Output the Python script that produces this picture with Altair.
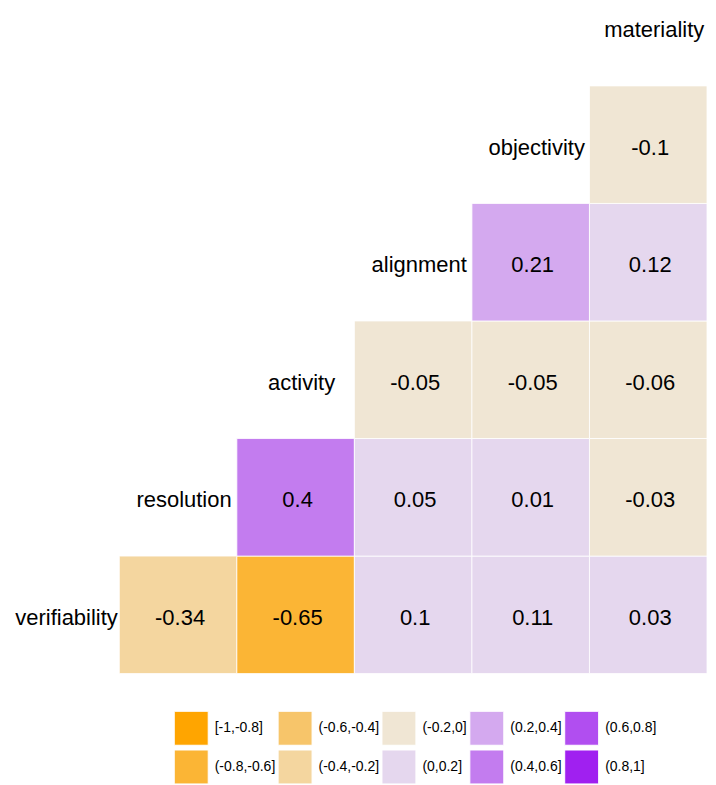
import altair as alt
import pandas as pd

# Variables, ordered from bottom-left (first) to top-right (last) on the diagonal
variables = ["verifiability", "resolution", "activity", "alignment", "objectivity", "materiality"]

# Lower-triangle correlations
row_var = ["verifiability",
           "verifiability", "resolution",
           "verifiability", "resolution", "activity",
           "verifiability", "resolution", "activity", "alignment",
           "verifiability", "resolution", "activity", "alignment", "objectivity"]
col_var = ["resolution",
           "activity", "activity",
           "alignment", "alignment", "alignment",
           "objectivity", "objectivity", "objectivity", "objectivity",
           "materiality", "materiality", "materiality", "materiality", "materiality"]
corr = [-0.34,
        -0.65, 0.4,
        0.1, 0.05, -0.05,
        0.11, 0.01, -0.05, 0.21,
        0.03, -0.03, -0.06, 0.12, -0.1]
# colour class of each cell as seen in the picture
corr_bin = ["(-0.4,-0.2]",
            "(-0.8,-0.6]", "(0.4,0.6]",
            "(0,0.2]", "(0,0.2]", "(-0.2,0]",
            "(0,0.2]", "(0,0.2]", "(-0.2,0]", "(0.2,0.4]",
            "(0,0.2]", "(-0.2,0]", "(-0.2,0]", "(0,0.2]", "(-0.2,0]"]

# Legend classes and their palette colours
bin_labels = ["[-1,-0.8]", "(-0.8,-0.6]", "(-0.6,-0.4]", "(-0.4,-0.2]", "(-0.2,0]",
              "(0,0.2]", "(0.2,0.4]", "(0.4,0.6]", "(0.6,0.8]", "(0.8,1]"]
bin_colors = ["#FFA500", "#FBB535", "#F7C56A", "#F4D69F", "#F0E6D4",
              "#E5D7EE", "#D4A9EF", "#C37CEF", "#B14EF0", "#A020F0"]

n = len(variables)
cells = pd.DataFrame({
    "row_var": row_var, "col_var": col_var, "corr": corr, "bin": corr_bin,
})
cells["c"] = cells["col_var"].map(variables.index)
cells["r"] = cells["row_var"].map(lambda v: n - 1 - variables.index(v))
cells["c2"] = cells["c"] + 1
cells["r2"] = cells["r"] + 1
cells["cm"] = cells["c"] + 0.5
cells["rm"] = cells["r"] + 0.5
cells["label"] = cells["corr"].map(lambda v: f"{v:g}")

diag = pd.DataFrame({"name": variables})
diag["cm"] = [i + 0.5 for i in range(n)]
diag["rm"] = [n - 1 - i + 0.5 for i in range(n)]

W, H = 700, 666
xs = alt.Scale(domain=[0.053, 6], nice=False, zero=False)
ys = alt.Scale(domain=[0.342, 6], nice=False, zero=False, reverse=True)

rects = alt.Chart(cells).mark_rect(stroke="white", strokeWidth=0.8).encode(
    x=alt.X("c:Q", scale=xs, axis=None),
    x2="c2:Q",
    y=alt.Y("r:Q", scale=ys, axis=None),
    y2="r2:Q",
    color=alt.Color("bin:N",
                    scale=alt.Scale(domain=bin_labels, range=bin_colors),
                    legend=alt.Legend(title=None, orient="none", legendX=166, legendY=703,
                                      columns=5, symbolType="square", symbolSize=1156,
                                      symbolStrokeColor="white", symbolStrokeWidth=1,
                                      symbolOpacity=1,
                                      labelFontSize=14, labelFont="Liberation Sans",
                                      labelColor="black", labelOffset=6,
                                      columnPadding=0, rowPadding=0, padding=0,
                                      labelLimit=200)),
)

values = alt.Chart(cells).mark_text(fontSize=22, font="Liberation Sans", color="black",
                                    dy=3, dx=2).encode(
    x=alt.X("cm:Q", scale=xs), y=alt.Y("rm:Q", scale=ys), text="label:N")

names = alt.Chart(diag).mark_text(fontSize=22, font="Liberation Sans", color="black",
                                  dy=3, dx=6).encode(
    x=alt.X("cm:Q", scale=xs), y=alt.Y("rm:Q", scale=ys), text="name:N")

chart = alt.layer(rects, values, names).properties(
    width=W, height=H, padding=0
).configure_view(stroke=None)

chart.save("out.html", embed_options={"renderer": "svg", "actions": False})
